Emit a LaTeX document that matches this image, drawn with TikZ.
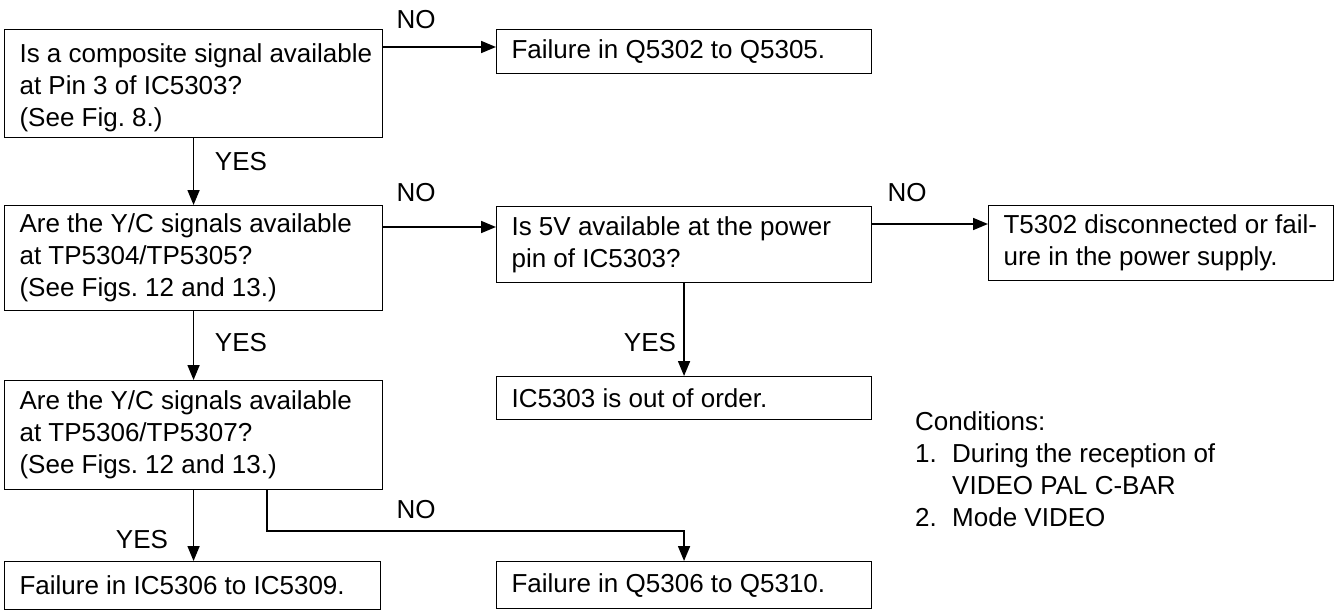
\documentclass[tikz,border=0pt]{standalone}
\usepackage{fontspec}
\setmainfont{Liberation Sans}
\usetikzlibrary{arrows.meta,calc}
\frenchspacing
\newcommand\bxt[2]{\hspace*{15pt}\parbox{#1pt}{\raggedright #2}}
\begin{document}
\begin{tikzpicture}[x=1pt,y=1pt,
  every node/.style={font=\fontsize{26}{32}\selectfont},
  box/.style={draw,line width=1.1pt,anchor=north west,inner xsep=0pt,inner ysep=0pt},
  arr/.style={line width=1.7pt,-{Triangle[length=15pt,width=12pt]}},
  lab/.style={inner sep=0pt}]
\useasboundingbox (0,0) rectangle (1335,-610);
% boxes
\node[box,minimum width=378,minimum height=108] (A) at (4,-29)
  {\bxt{363}{\vspace*{8pt}Is a composite signal available\\at Pin 3 of IC5303?\\(See Fig. 8.)}};
\node[box,minimum width=375,minimum height=44] (B) at (496,-29)
  {\bxt{360}{Failure in Q5302 to Q5305.}};
\node[box,minimum width=378,minimum height=105] (C) at (4,-205)
  {\bxt{363}{Are the Y/C signals available\\at TP5304/TP5305?\\(See Figs. 12 and 13.)}};
\node[box,minimum width=375,minimum height=76] (D) at (496,-206)
  {\bxt{360}{Is 5V available at the power\\pin of IC5303?}};
\node[box,minimum width=345,minimum height=75] (E) at (988,-205)
  {\bxt{330}{T5302 disconnected or fail-\\ure in the power supply.}};
\node[box,minimum width=375,minimum height=43] (F) at (496,-376)
  {\bxt{360}{IC5303 is out of order.}};
\node[box,minimum width=378,minimum height=109] (G) at (4,-380)
  {\bxt{363}{Are the Y/C signals available\\at TP5306/TP5307?\\(See Figs. 12 and 13.)}};
\node[box,minimum width=376,minimum height=48] (H) at (4,-561)
  {\bxt{361}{Failure in IC5306 to IC5309.}};
\node[box,minimum width=375,minimum height=47] (I) at (496,-561)
  {\bxt{360}{Failure in Q5306 to Q5310.}};
% helper coordinates
\coordinate (ab) at (0,-47);
\coordinate (cd) at (0,-227);
\coordinate (de) at (0,-224);
\coordinate (gn) at (267,-531);
% connectors
\draw[arr] (A.east |- ab) -- (B.west |- ab);
\draw[arr] (A.south) -- (A.south |- C.north);
\draw[arr] (C.east |- cd) -- (D.west |- cd);
\draw[arr] (D.east |- de) -- (E.west |- de);
\draw[arr] (D.south) -- (F.north);
\draw[arr] (C.south) -- (C.south |- G.north);
\draw[arr] (G.south) -- (G.south |- H.north);
\draw[arr] (G.south -| gn) -- (gn) -| (I.north);
% labels
\node[lab] (n1) at (416,-20) {NO};
\node[lab] (y1) at (241,-162) {YES};
\node[lab] (n2) at (416,-193) {NO};
\node[lab] (n3) at (907,-193) {NO};
\node[lab] (y2) at (241,-343) {YES};
\node[lab] (y3) at (650,-343) {YES};
\node[lab] (n4) at (416,-510) {NO};
\node[lab] (y4) at (142,-540) {YES};
% conditions
\node[lab,anchor=north west,align=left] (cond) at (915,-411)
  {Conditions:\\\makebox[37pt][l]{1.}During the reception of\\\hspace*{37pt}VIDEO PAL C-BAR\\\makebox[37pt][l]{2.}Mode VIDEO};
\end{tikzpicture}
\end{document}
